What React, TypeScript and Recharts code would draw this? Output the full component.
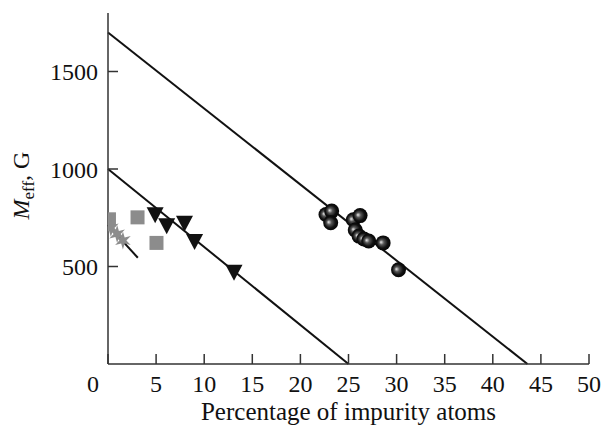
import React from 'react';
import { ScatterChart, Scatter, XAxis, YAxis, ReferenceLine, Label } from 'recharts';

// ---- data ----
const xTicks = [0, 5, 10, 15, 20, 25, 30, 35, 40, 45, 50];
const yTicks = [500, 1000, 1500];

const squares = [
  { x: 0.1, y: 742 },
  { x: 3.07, y: 752 },
  { x: 5.04, y: 621 },
];
const stars = [
  { x: 0.3, y: 697 },
  { x: 0.95, y: 667 },
  { x: 1.55, y: 633 },
];
const triangles = [
  { x: 4.9, y: 768 },
  { x: 6.1, y: 712 },
  { x: 7.95, y: 725 },
  { x: 9.0, y: 631 },
  { x: 13.1, y: 473 },
];
const spheres = [
  { x: 22.66, y: 767 },
  { x: 23.25, y: 784 },
  { x: 23.15, y: 724 },
  { x: 25.5, y: 740 },
  { x: 26.2, y: 761 },
  { x: 25.7, y: 687 },
  { x: 26.1, y: 656 },
  { x: 26.6, y: 641 },
  { x: 27.1, y: 631 },
  { x: 28.6, y: 621 },
  { x: 30.2, y: 483 },
];
const upperLine = [{ x: 0, y: 1700 }, { x: 43.6, y: 0 }];
const lowerLine = [{ x: 0, y: 1000 }, { x: 25, y: 0 }];
const starLine = [{ x: 0, y: 712 }, { x: 3.1, y: 545 }];

const FONT = '"Liberation Serif", "Times New Roman", serif';
const TXT = '#111';

const SquareShape = (p: any) => (
  <rect x={p.cx - 7} y={p.cy - 7} width={14} height={14} fill="#8c8c8c" />
);

const StarShape = (p: any) => {
  const pts: string[] = [];
  for (let i = 0; i < 12; i++) {
    const r = i % 2 === 0 ? 9 : 3.5;
    const a = (Math.PI / 6) * i - Math.PI / 2;
    pts.push(`${p.cx + r * Math.cos(a)},${p.cy + r * Math.sin(a)}`);
  }
  return <polygon points={pts.join(' ')} fill="#8c8c8c" />;
};

const TriangleShape = (p: any) => (
  <polygon
    points={`${p.cx - 8.5},${p.cy - 7} ${p.cx + 8.5},${p.cy - 7} ${p.cx},${p.cy + 9}`}
    fill="#111"
  />
);

const SphereShape = (p: any) => (
  <circle cx={p.cx} cy={p.cy} r={7.5} fill="url(#sphereGrad)" />
);

const XTick = (p: any) => {
  const v = p.payload.value;
  const dx = v === 0 ? -15 : 0;
  return (
    <text x={p.x + dx} y={p.y} dy={14} textAnchor="middle" fontSize={24} fontFamily={FONT} fill={TXT}>
      {v}
    </text>
  );
};

const YLabel = (p: any) => {
  const vb = p.viewBox || { x: 0, y: 0, width: 0, height: 0 };
  const cx = vb.x + 29;
  const cy = vb.y + vb.height / 2 - 3;
  return (
    <text
      x={cx}
      y={cy}
      transform={`rotate(-90, ${cx}, ${cy})`}
      textAnchor="middle"
      fontSize={24}
      fontFamily={FONT}
      fill={TXT}
    >
      <tspan fontStyle="italic">M</tspan>
      <tspan fontSize={17} dy={5}>eff</tspan>
      <tspan dy={-5}>, G</tspan>
    </text>
  );
};

export default function App() {
  return (
    <div style={{ position: 'absolute', left: 0, top: 0, width: 604, height: 425, background: '#fff' }}>
      <svg width={0} height={0} style={{ position: 'absolute' }}>
        <defs>
          <radialGradient id="sphereGrad" cx="50%" cy="50%" r="55%" fx="35%" fy="45%">
            <stop offset="0%" stopColor="#e8e8e8" />
            <stop offset="30%" stopColor="#555" />
            <stop offset="65%" stopColor="#111" />
            <stop offset="100%" stopColor="#000" />
          </radialGradient>
        </defs>
      </svg>
      <ScatterChart width={604} height={425} margin={{ top: 13, right: 15, bottom: 0, left: 0 }}>
        <XAxis
          type="number"
          dataKey="x"
          domain={[0, 50]}
          ticks={xTicks}
          allowDataOverflow
          height={61}
          stroke="#333"
          strokeWidth={1.5}
          tickSize={-10}
          tickMargin={24}
          tick={<XTick />}
          interval={0}
        >
          <Label
            value="Percentage of impurity atoms"
            position="insideBottom"
            offset={5}
            style={{ fontSize: 25, fontFamily: FONT, fill: TXT }}
          />
        </XAxis>
        <YAxis
          type="number"
          dataKey="y"
          domain={[0, 1800]}
          ticks={yTicks}
          width={108}
          stroke="#333"
          strokeWidth={1.5}
          tickSize={-10}
          tickMargin={20}
          tick={{ fontSize: 24, fontFamily: FONT, fill: TXT }}
          interval={0}
        >
          <Label content={<YLabel />} />
        </YAxis>
        <ReferenceLine segment={upperLine} stroke="#111" strokeWidth={2} ifOverflow="visible" />
        <ReferenceLine segment={lowerLine} stroke="#111" strokeWidth={2} ifOverflow="visible" />
        <Scatter data={squares} shape={SquareShape} isAnimationActive={false} />
        <Scatter data={stars} shape={StarShape} isAnimationActive={false} />
        <Scatter data={triangles} shape={TriangleShape} isAnimationActive={false} />
        <Scatter data={spheres} shape={SphereShape} isAnimationActive={false} />
        <ReferenceLine segment={starLine} stroke="#111" strokeWidth={2} ifOverflow="visible" />
      </ScatterChart>
    </div>
  );
}
